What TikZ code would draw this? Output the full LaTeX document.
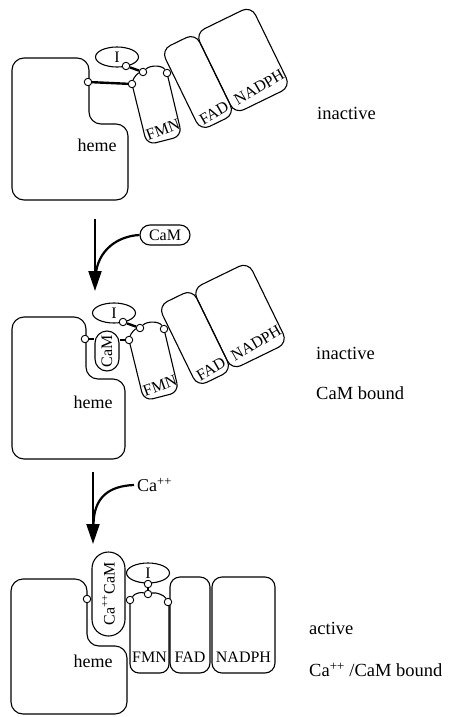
\documentclass[tikz,border=0pt]{standalone}
\usepackage{fontspec}
\setmainfont{Liberation Serif}
\usetikzlibrary{shapes.geometric,arrows.meta}

\tikzset{
  outline/.style={draw=black, line width=1.1pt},
  dombox/.style={outline, rounded corners=10pt, inner sep=0pt},
  pill/.style={outline, inner sep=0pt},
  knob/.style={circle, draw=black, fill=white, line width=0.9pt, inner sep=0pt, minimum size=7.5pt},
  linker/.style={line width=2.4pt},
  hinge/.style={line width=1.1pt},
  domlabel/.style={font=\fontsize{16}{16}\selectfont, inner sep=0pt},
  hemelabel/.style={font=\fontsize{18}{18}\selectfont, inner sep=0pt},
  statelabel/.style={font=\fontsize{18.5}{18.5}\selectfont, inner sep=0pt, anchor=west},
  shaft/.style={line width=2.2pt},
  tip/.style={-{Triangle[length=20pt,width=13pt]}},
}

% FMN, FAD and NADPH domains with the autoinhibitory loop (I) and hinges;
% #1 is the suffix for the node names
\newcommand\flavodomains[1]{%
  \draw[outline, rounded corners=9pt] (132,84) -- (147,145) -- (182,136) -- (167,73);
  \node[dombox, minimum width=38pt, minimum height=90pt, rotate=26] (fad#1) at (198,82) {};
  \node[dombox, minimum width=62pt, minimum height=90pt, rotate=26] (nadph#1) at (243,60) {};
  \node[outline, ellipse, minimum width=43pt, minimum height=20pt, inner sep=0pt,
        font=\fontsize{16}{16}\selectfont] (i#1) at (117,57) {I};
  \node[knob] (l#1) at (132,84) {};
  \node[knob] (ic#1) at (126,66) {};
  \node[knob] (m#1) at (143,72) {};
  \node[knob] (r#1) at (167,73) {};
  \draw[linker] (ic#1) -- (m#1);
  \draw[hinge] (l#1) .. controls (134,77) and (138,73) .. (m#1);
  \draw[hinge] (m#1) .. controls (150,65) and (162,65) .. (r#1);
  \node[domlabel, rotate=20] (fmnt#1) at (163,130) {FMN};
  \node[domlabel, rotate=30] (fadt#1) at (214,113) {FAD};
  \node[domlabel, rotate=30] (nadpht#1) at (259,87) {NADPH};
}

\begin{document}
\begin{tikzpicture}[x=1pt, y=-1pt]
\useasboundingbox (0,0) rectangle (449,717);

% ---------- inactive enzyme ----------
\draw[outline, rounded corners=12pt] (12,130) -- (12,58) -- (89,58) -- (89,124)
      -- (128,124) -- (128,200) -- (12,200) -- cycle;
\node[hemelabel] (heme1) at (97,145) {heme};
\begin{scope}
  \flavodomains{1}
\end{scope}
\node[knob] (h1) at (88,82) {};
\draw[linker] (h1) -- (l1);
\node[statelabel] (st1) at (317,113) {inactive};

% ---------- calmodulin binding ----------
\node[pill, minimum width=50pt, minimum height=20pt, rounded corners=10pt,
      font=\fontsize{16}{16}\selectfont] (camfree) at (165,235) {CaM};
\coordinate (a1s) at (95,219);
\coordinate (a1e) at (95,291);
\coordinate (a1j) at (95.5,277);
\draw[shaft, tip] (a1s) -- (a1e);
\draw[shaft] (camfree.west) .. controls (118,236) and (97,250) .. (a1j);

% ---------- CaM-bound, still inactive ----------
\draw[outline, rounded corners=12pt] (12,390) -- (12,317) -- (86,317) -- (86,379)
      -- (125,379) -- (125,459) -- (12,459) -- cycle;
\node[hemelabel] (heme2) at (93,402) {heme};
\node[pill, minimum width=40pt, minimum height=24pt, rounded corners=12pt, rotate=90,
      font=\fontsize{16}{16}\selectfont] (cam2) at (107,351) {CaM};
\begin{scope}[shift={(-3,256)}]
  \flavodomains{2}
\end{scope}
\node[knob] (h2) at (85,339) {};
\draw[linker] (h2) -- (cam2.north |- h2);
\draw[linker] (cam2.south |- l2) -- (l2);
\node[statelabel] (st2a) at (316,353) {inactive};
\node[statelabel] (st2b) at (316,393) {CaM bound};

% ---------- calcium binding ----------
\node[font=\fontsize{18}{18}\selectfont, inner sep=0pt, anchor=west] (ca) at (137,485) {Ca\textsuperscript{++}};
\coordinate (a2s) at (93,472);
\coordinate (a2e) at (93,544);
\coordinate (a2j) at (93.5,524);
\draw[shaft, tip] (a2s) -- (a2e);
\draw[shaft] ([xshift=-3pt]ca.west) .. controls (108,486) and (94,498) .. (a2j);

% ---------- active enzyme ----------
\draw[outline, rounded corners=12pt] (11,650) -- (11,579) -- (87,579) -- (87,646)
      -- (127,646) -- (127,714) -- (11,714) -- cycle;
\node[hemelabel] (heme3) at (93,661) {heme};
\node[pill, minimum width=84pt, minimum height=33pt, rounded corners=16.5pt, rotate=90,
      font=\fontsize{16}{16}\selectfont] (cam3) at (108.5,594) {Ca\textsuperscript{++}CaM};
\draw[outline, rounded corners=9pt] (130,600) -- (130,673) -- (169,673) -- (169,602);
\node[dombox, minimum width=40pt, minimum height=96pt] (fad3) at (190,625) {};
\node[dombox, minimum width=63pt, minimum height=96pt] (nadph3) at (243.5,625) {};
\node[outline, ellipse, minimum width=43pt, minimum height=20pt, inner sep=0pt,
      font=\fontsize{16}{16}\selectfont] (i3) at (148,573) {I};
\node[knob] (h3) at (87,599) {};
\node[knob] (l3) at (130,600) {};
\node[knob] (ic3) at (148,584) {};
\node[knob] (m3) at (148,594) {};
\node[knob] (r3) at (168,602) {};
\draw[linker] (ic3) -- (m3);
\draw[hinge] (l3) .. controls (135,593) and (141,592) .. (m3);
\draw[hinge] (m3) .. controls (156,592) and (164,595) .. (r3);
\node[domlabel] (fmnt3) at (149.5,657) {FMN};
\node[domlabel] (fadt3) at (190,657) {FAD};
\node[domlabel] (nadpht3) at (243.5,657) {NADPH};
\node[statelabel] (st3a) at (309,628) {active};
\node[statelabel] (st3b) at (309,670) {Ca\textsuperscript{++} /CaM bound};
\end{tikzpicture}
\end{document}
